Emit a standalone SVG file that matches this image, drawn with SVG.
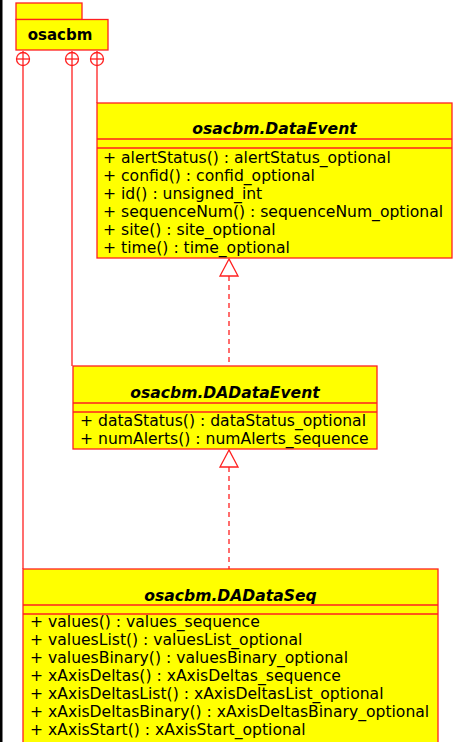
<svg xmlns="http://www.w3.org/2000/svg" width="458" height="742" viewBox="0 0 458 742">
<style>
.box{fill:#ffff00;stroke:#ff2020;stroke-width:1.3}
.ln{stroke:#ff2020;stroke-width:1.3;fill:none}
.dash{stroke:#ff2020;stroke-width:1.3;fill:none;stroke-dasharray:5,4}
.tri{fill:#ffffff;stroke:#ff2020;stroke-width:1.3}
.t{font-family:"DejaVu Sans",sans-serif;font-size:15.6px;fill:#000}
.title{font-family:"DejaVu Sans",sans-serif;font-size:15.6px;font-weight:bold;font-style:italic;fill:#000;text-anchor:middle}
.pk{font-family:"DejaVu Sans",sans-serif;font-size:15px;font-weight:bold;fill:#000;text-anchor:middle}
</style>
<rect x="0" y="0" width="458" height="742" fill="#ffffff"/>
<rect x="0" y="0" width="2.5" height="742" fill="#000000"/>
<g id="connectors">
  <line class="ln" x1="23" y1="66" x2="23" y2="569"/>
  <line class="ln" x1="72" y1="66" x2="72" y2="366"/>
  <line class="ln" x1="97" y1="66" x2="97" y2="103"/>
  <g class="ln">
    <circle cx="23" cy="59" r="6.5"/><line x1="16.5" y1="59" x2="29.5" y2="59"/><line x1="23" y1="51" x2="23" y2="66"/>
    <circle cx="72" cy="59" r="6.5"/><line x1="65.5" y1="59" x2="78.5" y2="59"/><line x1="72" y1="51" x2="72" y2="66"/>
    <circle cx="97" cy="59" r="6.5"/><line x1="90.5" y1="59" x2="103.5" y2="59"/><line x1="97" y1="51" x2="97" y2="66"/>
  </g>
  <line class="dash" x1="229" y1="276" x2="229" y2="366"/>
  <polygon class="tri" points="229,259 220,276 238,276"/>
  <line class="dash" x1="229" y1="467" x2="229" y2="569"/>
  <polygon class="tri" points="229,450 220,467 238,467"/>
</g>
<g id="osacbm">
  <rect class="box" x="16" y="3" width="66" height="16.5"/>
  <rect class="box" x="16" y="19.5" width="92" height="30.5"/>
  <text class="pk" x="60" y="40">osacbm</text>
</g>
<g id="DataEvent">
  <rect class="box" x="97" y="103" width="355" height="155"/>
  <line class="ln" x1="97" y1="139" x2="452" y2="139"/>
  <line class="ln" x1="97" y1="148" x2="452" y2="148"/>
  <text class="title" x="274.5" y="134">osacbm.DataEvent</text>
  <text class="t" x="103" y="163">+ alertStatus() : alertStatus_optional</text>
  <text class="t" x="103" y="181">+ confid() : confid_optional</text>
  <text class="t" x="103" y="199">+ id() : unsigned_int</text>
  <text class="t" x="103" y="217">+ sequenceNum() : sequenceNum_optional</text>
  <text class="t" x="103" y="235">+ site() : site_optional</text>
  <text class="t" x="103" y="253">+ time() : time_optional</text>
</g>
<g id="DADataEvent">
  <rect class="box" x="73" y="366" width="304" height="83"/>
  <line class="ln" x1="73" y1="403" x2="377" y2="403"/>
  <line class="ln" x1="73" y1="412" x2="377" y2="412"/>
  <text class="title" x="225" y="398">osacbm.DADataEvent</text>
  <text class="t" x="80" y="426">+ dataStatus() : dataStatus_optional</text>
  <text class="t" x="80" y="444">+ numAlerts() : numAlerts_sequence</text>
</g>
<g id="DADataSeq">
  <rect class="box" x="23" y="569" width="415" height="190"/>
  <line class="ln" x1="23" y1="605" x2="438" y2="605"/>
  <line class="ln" x1="23" y1="614" x2="438" y2="614"/>
  <text class="title" x="230.5" y="601">osacbm.DADataSeq</text>
  <text class="t" x="30" y="627">+ values() : values_sequence</text>
  <text class="t" x="30" y="645">+ valuesList() : valuesList_optional</text>
  <text class="t" x="30" y="663">+ valuesBinary() : valuesBinary_optional</text>
  <text class="t" x="30" y="681">+ xAxisDeltas() : xAxisDeltas_sequence</text>
  <text class="t" x="30" y="699">+ xAxisDeltasList() : xAxisDeltasList_optional</text>
  <text class="t" x="30" y="717">+ xAxisDeltasBinary() : xAxisDeltasBinary_optional</text>
  <text class="t" x="30" y="735">+ xAxisStart() : xAxisStart_optional</text>
</g>
</svg>
